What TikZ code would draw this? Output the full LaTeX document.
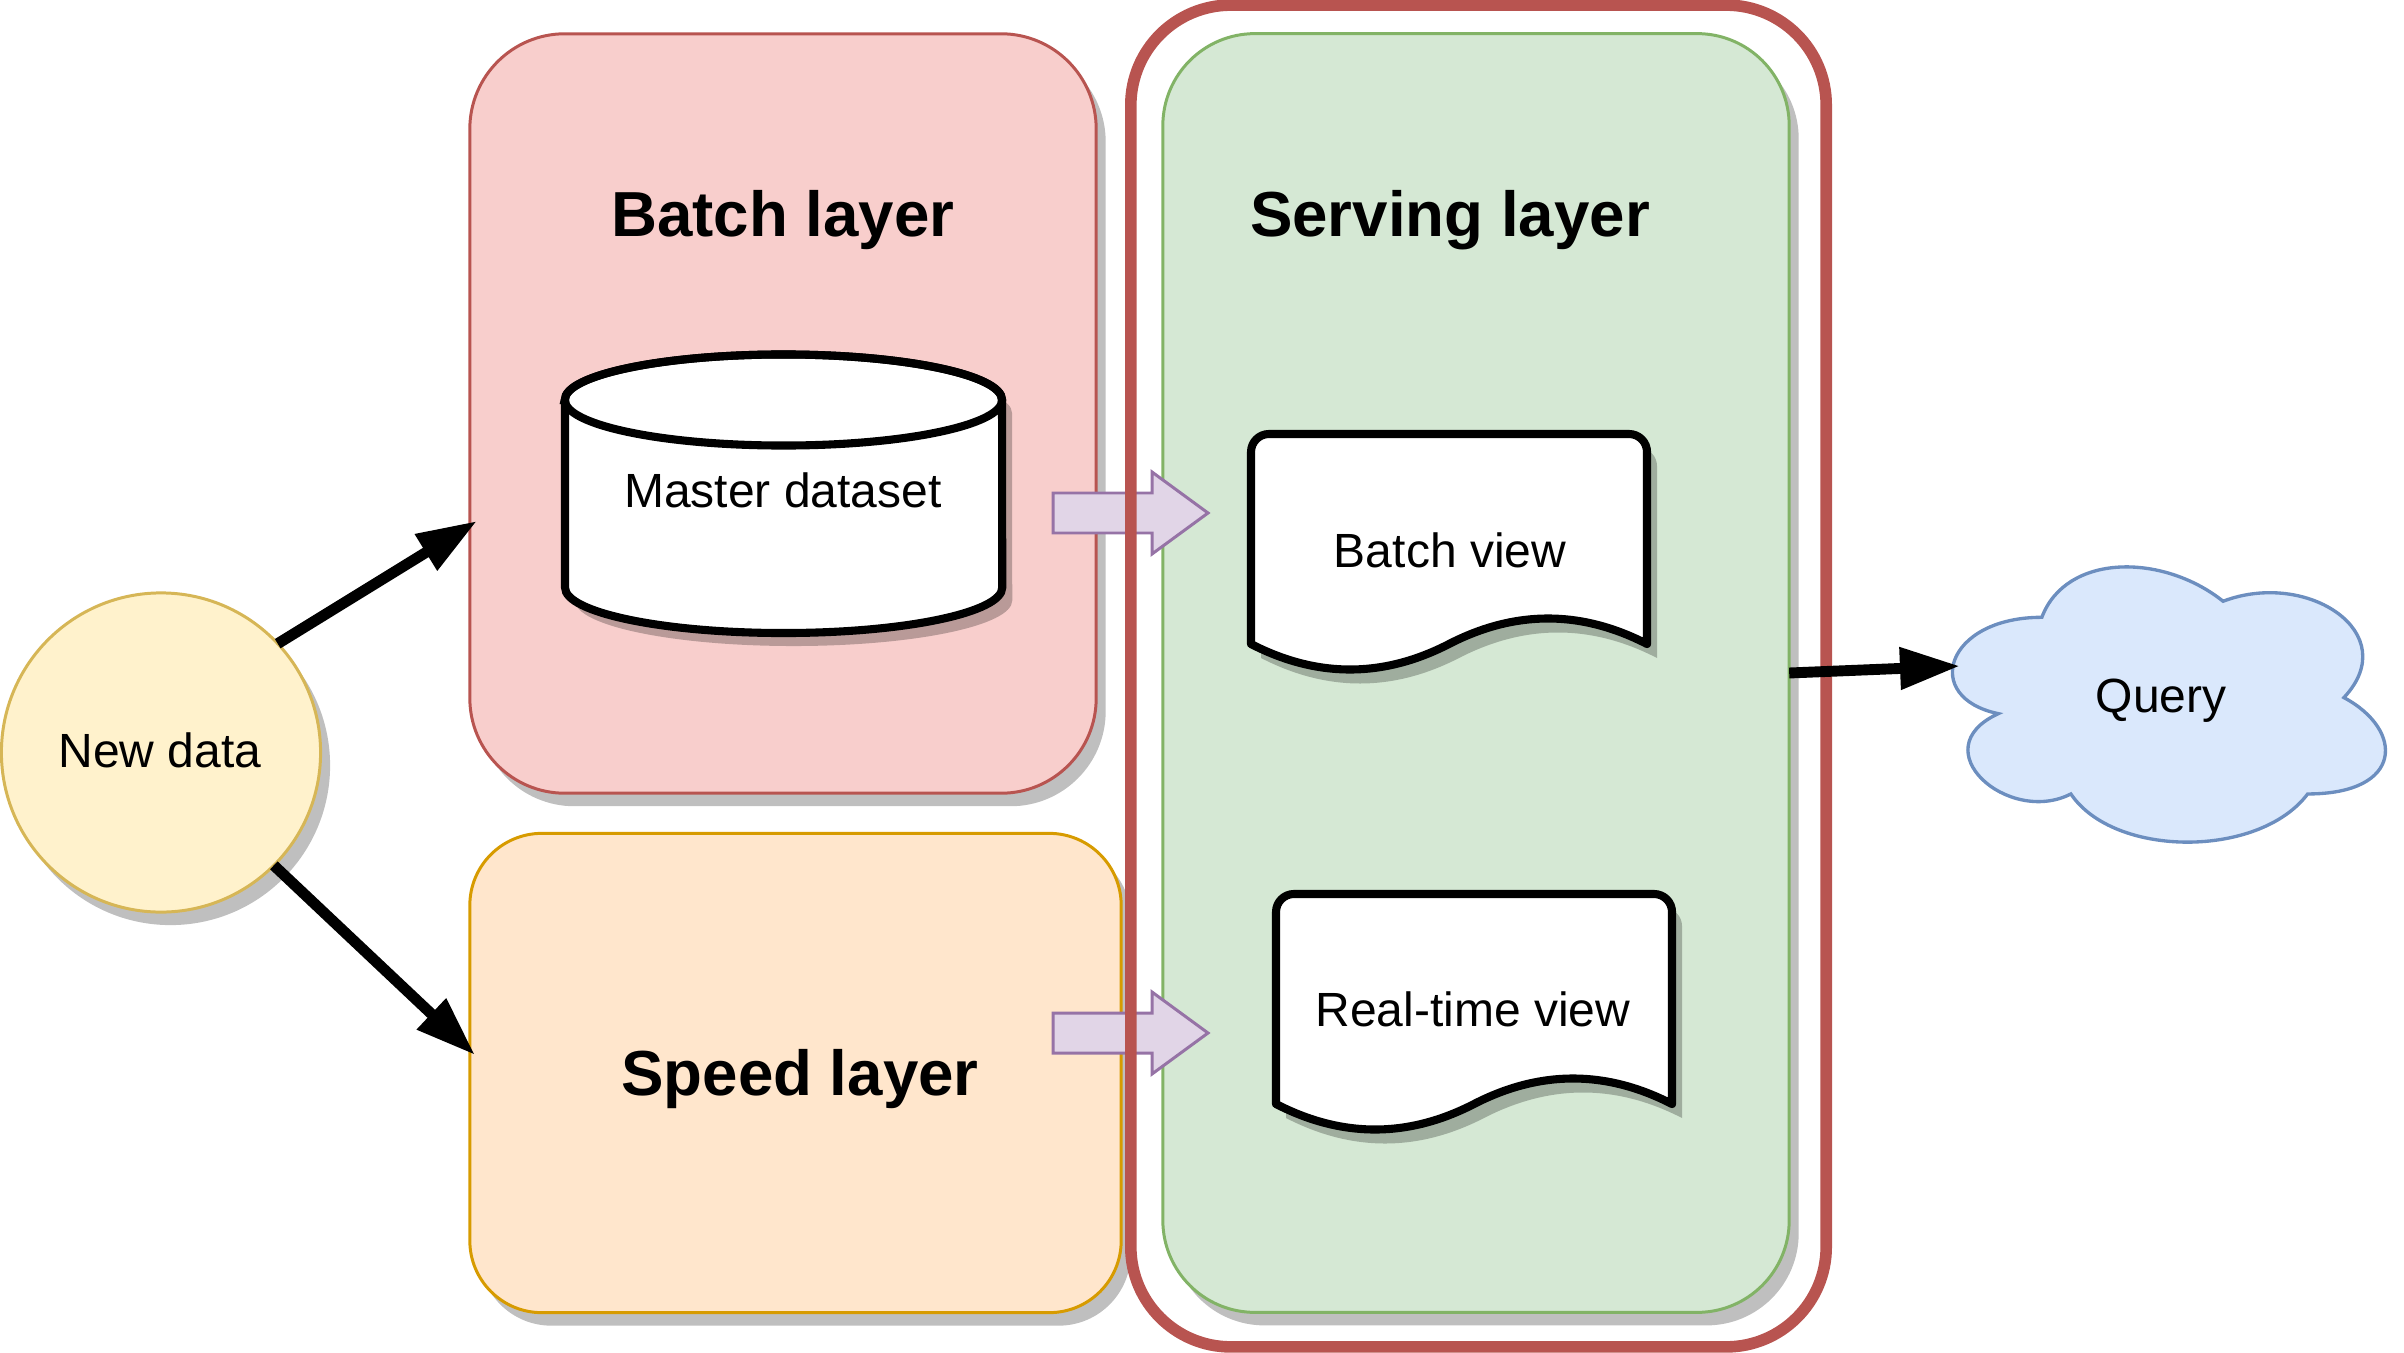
\documentclass[tikz,border=0pt]{standalone}
\usepackage{fontspec}
\setmainfont{Liberation Sans}
\usetikzlibrary{arrows.meta,shadows}
\definecolor{pinkF}{HTML}{F8CECC}\definecolor{pinkD}{HTML}{B85450}
\definecolor{orangeF}{HTML}{FFE6CC}\definecolor{orangeD}{HTML}{D79B00}
\definecolor{greenF}{HTML}{D5E8D4}\definecolor{greenD}{HTML}{82B366}
\definecolor{yellowF}{HTML}{FFF2CC}\definecolor{yellowD}{HTML}{D6B656}
\definecolor{blueF}{HTML}{DAE8FC}\definecolor{blueD}{HTML}{6C8EBF}
\definecolor{purpF}{HTML}{E1D5E7}\definecolor{purpD}{HTML}{9673A6}
\newcommand{\mydocpath}{(0,210) -- (0,18) arc[start angle=180,end angle=90,radius=0.18cm] -- (378,0) arc[start angle=90,end angle=0,radius=0.18cm] -- (396,210) .. controls (330,176) and (264,176) .. (198,210) .. controls (132,244) and (66,244) .. cycle}
\newcommand{\mycylpath}{(565,400) -- (565,587.5) arc[start angle=180,end angle=360,x radius=2.185cm,y radius=0.455cm] -- (1002,400) arc[start angle=0,end angle=180,x radius=2.185cm,y radius=0.455cm] -- cycle}
\begin{document}
\begin{tikzpicture}[x=0.01cm,y=-0.01cm,
  shad/.style={drop shadow={shadow xshift=0.095cm,shadow yshift=-0.13cm,fill=black,opacity=0.25}},
  layerbox/.style={draw,line width=0.85pt,inner sep=0pt,outer sep=0pt,shad},
  title/.style={font=\fontsize{18.1}{21}\selectfont\bfseries,anchor=base,inner sep=0pt},
  lbl/.style={font=\fontsize{13.65}{16}\selectfont,anchor=base,inner sep=0pt},
  shapeline/.style={draw=black,line width=2.3pt,fill=white},
  shadowfill/.style={fill=black,opacity=0.25},
  conn/.style={line width=3.1pt,-{Triangle[length=0.6cm,width=0.4cm]}},
  blockarrow/.style={draw=purpD,fill=purpF,line width=0.85pt,line join=miter}
]
\useasboundingbox (0,0) rectangle (2404,1352);

% layer boxes
\node[layerbox,fill=pinkF,draw=pinkD,minimum width=6.26cm,minimum height=7.59cm,rounded corners=0.95cm] (batch) at (783,413.5) {};
\node[layerbox,fill=orangeF,draw=orangeD,minimum width=6.51cm,minimum height=4.79cm,rounded corners=0.72cm] (speed) at (795.5,1073) {};
\node[layerbox,fill=greenF,draw=greenD,minimum width=6.26cm,minimum height=12.78cm,rounded corners=0.92cm] (serving) at (1476,673) {};

% new data
\node[circle,layerbox,fill=yellowF,draw=yellowD,minimum size=3.19cm] (newdata) at (161,752.5) {};
\node[lbl] (newdatatext) at (160,767) {New data};

% titles
\node[title] (batchtitle) at (783,237) {Batch layer};
\node[title] (servingtitle) at (1450,237) {Serving layer};
\node[title] (speedtitle) at (800,1095) {Speed layer};

% cylinder
\begin{scope}[shift={(10,13)}]
  \fill[shadowfill] \mycylpath;
\end{scope}
\path[shapeline] \mycylpath;
\draw[line width=2.3pt] (783.5,400) ellipse [x radius=2.185cm,y radius=0.455cm];
\node[lbl] (master) at (783,507) {Master dataset};

% documents
\begin{scope}[shift={(1261,448)}]
  \fill[shadowfill] \mydocpath;
\end{scope}
\begin{scope}[shift={(1251,434)}]
  \path[shapeline,line join=round] \mydocpath;
\end{scope}
\node[lbl] (bview) at (1450,567) {Batch view};

\begin{scope}[shift={(1286,908)}]
  \fill[shadowfill] \mydocpath;
\end{scope}
\begin{scope}[shift={(1276,894)}]
  \path[shapeline,line join=round] \mydocpath;
\end{scope}
\node[lbl] (rtview) at (1473,1026) {Real-time view};

% block arrows
\draw[blockarrow] (1053,493) -- (1152,493) -- (1152,472) -- (1208,513) -- (1152,554) -- (1152,533) -- (1053,533) -- cycle;
\draw[blockarrow] (1053,1013) -- (1152,1013) -- (1152,992) -- (1208,1033) -- (1152,1074) -- (1152,1053) -- (1053,1053) -- cycle;

% outer frame
\node[draw=pinkD,line width=3.3pt,inner sep=0pt,outer sep=0pt,minimum width=6.95cm,minimum height=13.41cm,rounded corners=1.0cm] (frame) at (1478.5,676) {};

% cloud
\begin{scope}[shift={(1921,537)},x=4.83cm,y=-3.21cm]
  \draw[draw=blueD,fill=blueF,line width=0.95pt] (0.25,0.25) .. controls (0.05,0.25) and (0,0.5) .. (0.16,0.55)
    .. controls (0,0.66) and (0.18,0.9) .. (0.31,0.8)
    .. controls (0.4,1) and (0.7,1) .. (0.8,0.8)
    .. controls (1,0.8) and (1,0.6) .. (0.875,0.5)
    .. controls (1,0.3) and (0.8,0.1) .. (0.625,0.2)
    .. controls (0.5,0.05) and (0.3,0.05) .. (0.25,0.25) -- cycle;
\end{scope}
\node[lbl] (query) at (2161,712) {Query};

% connectors
\coordinate (batchin) at (477,521);
\coordinate (speedin) at (475,1055);
\coordinate (queryin) at (1960,666);
\draw[conn] (newdata.43.6) -- (batchin);
\draw[conn] (newdata.-45) -- (speedin);
\draw[conn] (serving.east) -- (queryin);
\end{tikzpicture}
\end{document}
